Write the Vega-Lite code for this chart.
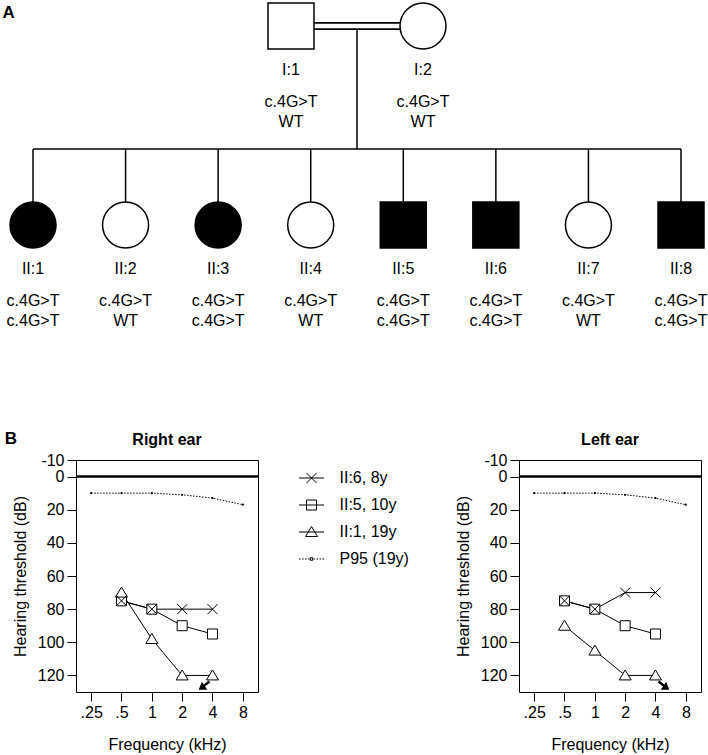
{
  "$schema": "https://vega.github.io/schema/vega-lite/v6.json",
  "padding": {"left": 2, "top": 0, "right": 0, "bottom": 0},
  "spacing": 84,
  "config": {
    "font": "Liberation Sans",
    "view": {"stroke": "black", "strokeWidth": 1},
    "axis": {"grid": false, "domain": false, "tickColor": "black", "tickSize": 9, "labelFontSize": 16, "titleFontSize": 16, "titleFontWeight": "normal", "labelColor": "black", "titleColor": "black", "labelOverlap": false, "labelSeparation": -20},
    "axisX": {"labelPadding": 3, "titlePadding": 16},
    "axisY": {"labelPadding": 3, "titlePadding": 9, "labelOverlap": false},
    "title": {"fontSize": 16, "fontWeight": "bold", "color": "black"},
    "text": {"fontSize": 16, "color": "black"}
  },
  "datasets": {
    "people": [
      {"id": "I:1", "sex": "M", "aff": "no", "x": 3.787, "gen": 1, "g1": "c.4G>T", "g2": "WT"},
      {"id": "I:2", "sex": "F", "aff": "no", "x": 5.213, "gen": 1, "g1": "c.4G>T", "g2": "WT"},
      {"id": "II:1", "sex": "F", "aff": "yes", "x": 1, "gen": 2, "g1": "c.4G>T", "g2": "c.4G>T"},
      {"id": "II:2", "sex": "F", "aff": "no", "x": 2, "gen": 2, "g1": "c.4G>T", "g2": "WT"},
      {"id": "II:3", "sex": "F", "aff": "yes", "x": 3, "gen": 2, "g1": "c.4G>T", "g2": "c.4G>T"},
      {"id": "II:4", "sex": "F", "aff": "no", "x": 4, "gen": 2, "g1": "c.4G>T", "g2": "WT"},
      {"id": "II:5", "sex": "M", "aff": "yes", "x": 5, "gen": 2, "g1": "c.4G>T", "g2": "c.4G>T"},
      {"id": "II:6", "sex": "M", "aff": "yes", "x": 6, "gen": 2, "g1": "c.4G>T", "g2": "c.4G>T"},
      {"id": "II:7", "sex": "F", "aff": "no", "x": 7, "gen": 2, "g1": "c.4G>T", "g2": "WT"},
      {"id": "II:8", "sex": "M", "aff": "yes", "x": 8, "gen": 2, "g1": "c.4G>T", "g2": "c.4G>T"}
    ],
    "links": [
      {"x": 4.5, "x2": 4.5, "y": 1, "y2": 1.618},
      {"x": 1, "x2": 8, "y": 1.618, "y2": 1.618},
      {"x": 1, "x2": 1, "y": 1.618, "y2": 2},
      {"x": 2, "x2": 2, "y": 1.618, "y2": 2},
      {"x": 3, "x2": 3, "y": 1.618, "y2": 2},
      {"x": 4, "x2": 4, "y": 1.618, "y2": 2},
      {"x": 5, "x2": 5, "y": 1.618, "y2": 2},
      {"x": 6, "x2": 6, "y": 1.618, "y2": 2},
      {"x": 7, "x2": 7, "y": 1.618, "y2": 2},
      {"x": 8, "x2": 8, "y": 1.618, "y2": 2}
    ],
    "marriage": [{"x": 3.787, "x2": 5.213, "y": 1}],
    "right": [
      {"subject": "II:5, 10y", "freq": 0.5, "db": 75},
      {"subject": "II:5, 10y", "freq": 1, "db": 80},
      {"subject": "II:5, 10y", "freq": 2, "db": 90},
      {"subject": "II:5, 10y", "freq": 4, "db": 95},
      {"subject": "II:1, 19y", "freq": 0.5, "db": 70},
      {"subject": "II:1, 19y", "freq": 1, "db": 98},
      {"subject": "II:1, 19y", "freq": 2, "db": 120},
      {"subject": "II:1, 19y", "freq": 4, "db": 120},
      {"subject": "II:6, 8y", "freq": 0.5, "db": 75},
      {"subject": "II:6, 8y", "freq": 1, "db": 80},
      {"subject": "II:6, 8y", "freq": 2, "db": 80},
      {"subject": "II:6, 8y", "freq": 4, "db": 80}
    ],
    "left": [
      {"subject": "II:5, 10y", "freq": 0.5, "db": 75},
      {"subject": "II:5, 10y", "freq": 1, "db": 80},
      {"subject": "II:5, 10y", "freq": 2, "db": 90},
      {"subject": "II:5, 10y", "freq": 4, "db": 95},
      {"subject": "II:1, 19y", "freq": 0.5, "db": 90},
      {"subject": "II:1, 19y", "freq": 1, "db": 105},
      {"subject": "II:1, 19y", "freq": 2, "db": 120},
      {"subject": "II:1, 19y", "freq": 4, "db": 120},
      {"subject": "II:6, 8y", "freq": 0.5, "db": 75},
      {"subject": "II:6, 8y", "freq": 1, "db": 80},
      {"subject": "II:6, 8y", "freq": 2, "db": 70},
      {"subject": "II:6, 8y", "freq": 4, "db": 70}
    ],
    "p95": [
      {"freq": 0.25, "db": 10},
      {"freq": 0.5, "db": 10},
      {"freq": 1, "db": 10},
      {"freq": 2, "db": 11},
      {"freq": 4, "db": 13},
      {"freq": 8, "db": 17}
    ],
    "nr": [{"freq": 4, "db": 120}],
    "zero": [{"db": 0}]
  },
  "vconcat": [
    {
      "width": 633,
      "height": 345,
      "view": {"stroke": null},
      "title": {"text": "A", "anchor": "start", "frame": "bounds", "offset": -22, "dx": -4, "fontSize": 17},
      "layer": [
        {
          "data": {"name": "links"},
          "mark": {"type": "rule", "strokeWidth": 1.5, "color": "black"},
          "encoding": {
            "x": {"field": "x", "type": "quantitative", "scale": {"domain": [1.4645, 8.3025], "nice": false, "zero": false}, "axis": null},
            "x2": {"field": "x2"},
            "y": {"field": "y", "type": "quantitative", "scale": {"domain": [0.8693, 2.603], "reverse": true, "nice": false, "zero": false}, "axis": null},
            "y2": {"field": "y2"}
          }
        },
        {
          "data": {"name": "marriage"},
          "mark": {"type": "rule", "strokeWidth": 8, "color": "black"},
          "encoding": {
            "x": {"field": "x", "type": "quantitative", "axis": null},
            "x2": {"field": "x2"},
            "y": {"field": "y", "type": "quantitative", "axis": null}
          }
        },
        {
          "data": {"name": "marriage"},
          "mark": {"type": "rule", "strokeWidth": 4.5, "color": "white"},
          "encoding": {
            "x": {"field": "x", "type": "quantitative", "axis": null},
            "x2": {"field": "x2"},
            "y": {"field": "y", "type": "quantitative", "axis": null}
          }
        },
        {
          "data": {"name": "people"},
          "mark": {"type": "point", "size": 2116, "stroke": "black", "strokeWidth": 1.5, "opacity": 1},
          "encoding": {
            "x": {"field": "x", "type": "quantitative", "axis": null},
            "y": {"field": "gen", "type": "quantitative", "axis": null},
            "shape": {"field": "sex", "type": "nominal", "scale": {"domain": ["M", "F"], "range": ["square", "circle"]}, "legend": null},
            "fill": {"field": "aff", "type": "nominal", "scale": {"domain": ["yes", "no"], "range": ["black", "white"]}, "legend": null}
          }
        },
        {
          "data": {"name": "people"},
          "mark": {"type": "text", "dy": 44, "baseline": "middle"},
          "encoding": {
            "x": {"field": "x", "type": "quantitative", "axis": null},
            "y": {"field": "gen", "type": "quantitative", "axis": null},
            "text": {"field": "id"}
          }
        },
        {
          "data": {"name": "people"},
          "mark": {"type": "text", "dy": 76, "baseline": "middle"},
          "encoding": {
            "x": {"field": "x", "type": "quantitative", "axis": null},
            "y": {"field": "gen", "type": "quantitative", "axis": null},
            "text": {"field": "g1"}
          }
        },
        {
          "data": {"name": "people"},
          "mark": {"type": "text", "dy": 96, "baseline": "middle"},
          "encoding": {
            "x": {"field": "x", "type": "quantitative", "axis": null},
            "y": {"field": "gen", "type": "quantitative", "axis": null},
            "text": {"field": "g2"}
          }
        }
      ]
    },
    {
      "title": {"text": "B", "anchor": "start", "offset": -16, "dx": -7, "fontSize": 17},
      "spacing": 44,
      "resolve": {"scale": {"shape": "independent"}, "legend": {"shape": "independent"}},
      "hconcat": [
        {
          "width": 182,
          "height": 232,
          "title": {"text": "Right ear", "offset": 4},
          "resolve": {"scale": {"shape": "independent"}, "legend": {"shape": "independent"}},
          "encoding": {
            "x": {"field": "freq", "type": "quantitative", "scale": {"type": "log", "base": 2, "domain": [0.1768, 11.3137], "nice": false}, "axis": {"values": [0.25, 0.5, 1, 2, 4, 8], "labelExpr": "datum.value == 0.25 ? '.25' : datum.value == 0.5 ? '.5' : '' + datum.value", "labelOverlap": false, "labelSeparation": -20, "title": "Frequency (kHz)"}},
            "y": {"field": "db", "type": "quantitative", "scale": {"domain": [-10, 130], "reverse": true, "nice": false, "zero": false}, "axis": {"values": [-10, 0, 20, 40, 60, 80, 100, 120], "labelExpr": "'' + datum.value", "labelOverlap": false, "labelSeparation": -20, "title": "Hearing threshold (dB)"}}
          },
          "layer": [
            {
              "data": {"name": "zero"},
              "mark": {"type": "rule", "strokeWidth": 2.5, "color": "black"},
              "encoding": {"x": null}
            },
            {
              "data": {"name": "p95"},
              "mark": {"type": "line", "strokeDash": [1.5, 1.5], "strokeWidth": 1, "color": "black"}
            },
            {
              "data": {"name": "p95"},
              "mark": {"type": "point", "filled": true, "size": 5, "color": "black", "opacity": 1}
            },
            {
              "data": {"name": "right"},
              "mark": {"type": "line", "strokeWidth": 1, "color": "black"},
              "encoding": {"detail": {"field": "subject"}}
            },
            {
              "data": {"name": "right"},
              "mark": {"type": "point", "fill": "white", "stroke": "black", "strokeWidth": 1, "size": 100, "opacity": 1},
              "encoding": {
                "shape": {"field": "subject", "type": "nominal", "scale": {"domain": ["II:6, 8y", "II:5, 10y", "II:1, 19y"], "range": ["M-1,-1L1,1M-1,1L1,-1", "M-1,-1H1V1H-1Z", "M0,-1.1L1.2,0.9H-1.2Z"]}, "legend": null}
              }
            },
            {
              "data": {"name": "nr"},
              "mark": {"type": "point", "shape": "M-0.75,1.5L-2.75,3.05M-3,3.25L-1.9,3.28L-2.6,2.23Z", "size": 64, "fill": "black", "stroke": "black", "strokeWidth": 2.5, "opacity": 1}
            },
            {
              "data": {"name": "right"},
              "mark": {"type": "point", "opacity": 0, "size": 100, "color": "black"},
              "encoding": {
                "shape": {
                  "field": "subject", "type": "nominal",
                  "scale": {"domain": ["II:6, 8y", "II:5, 10y", "II:1, 19y", "P95 (19y)"], "range": ["M-2.5,0H2.5M-1,-1L1,1M-1,1L1,-1", "M-2.5,0H2.5M-1,-1H1V1H-1Z", "M-2.5,0H2.5M0,-1.1L1.2,0.9H-1.2Z", "M-2.5,0H-2.2M-1.9,0H-1.6M-1.3,0H-1M-0.7,0H-0.4M0.4,0H0.7M1,0H1.3M1.6,0H1.9M2.2,0H2.5M-0.25,-0.25H0.25V0.25H-0.25Z"]},
                  "legend": {"orient": "none", "legendX": 227.5, "legendY": 10, "title": null, "padding": 0, "symbolSize": 100, "symbolStrokeWidth": 1, "symbolStrokeColor": "black", "symbolFillColor": "transparent", "symbolOpacity": 1, "labelFontSize": 16, "labelOffset": 20, "rowPadding": 11, "labelColor": "black", "encode": {"symbols": {"update": {"opacity": {"value": 1}}}}}
                }
              }
            }
          ]
        },
        {
          "width": 182,
          "height": 232,
          "title": {"text": "Left ear", "offset": 4},
          "encoding": {
            "x": {"field": "freq", "type": "quantitative", "scale": {"type": "log", "base": 2, "domain": [0.1768, 11.3137], "nice": false}, "axis": {"values": [0.25, 0.5, 1, 2, 4, 8], "labelExpr": "datum.value == 0.25 ? '.25' : datum.value == 0.5 ? '.5' : '' + datum.value", "labelOverlap": false, "labelSeparation": -20, "title": "Frequency (kHz)"}},
            "y": {"field": "db", "type": "quantitative", "scale": {"domain": [-10, 130], "reverse": true, "nice": false, "zero": false}, "axis": {"values": [-10, 0, 20, 40, 60, 80, 100, 120], "labelExpr": "'' + datum.value", "labelOverlap": false, "labelSeparation": -20, "title": "Hearing threshold (dB)"}}
          },
          "layer": [
            {
              "data": {"name": "zero"},
              "mark": {"type": "rule", "strokeWidth": 2.5, "color": "black"},
              "encoding": {"x": null}
            },
            {
              "data": {"name": "p95"},
              "mark": {"type": "line", "strokeDash": [1.5, 1.5], "strokeWidth": 1, "color": "black"}
            },
            {
              "data": {"name": "p95"},
              "mark": {"type": "point", "filled": true, "size": 5, "color": "black", "opacity": 1}
            },
            {
              "data": {"name": "left"},
              "mark": {"type": "line", "strokeWidth": 1, "color": "black"},
              "encoding": {"detail": {"field": "subject"}}
            },
            {
              "data": {"name": "left"},
              "mark": {"type": "point", "fill": "white", "stroke": "black", "strokeWidth": 1, "size": 100, "opacity": 1},
              "encoding": {
                "shape": {"field": "subject", "type": "nominal", "scale": {"domain": ["II:6, 8y", "II:5, 10y", "II:1, 19y"], "range": ["M-1,-1L1,1M-1,1L1,-1", "M-1,-1H1V1H-1Z", "M0,-1.1L1.2,0.9H-1.2Z"]}, "legend": null}
              }
            },
            {
              "data": {"name": "nr"},
              "mark": {"type": "point", "shape": "M0.75,1.5L2.75,3.05M3,3.25L1.9,3.28L2.6,2.23Z", "size": 64, "fill": "black", "stroke": "black", "strokeWidth": 2.5, "opacity": 1}
            }
          ]
        }
      ]
    }
  ]
}
